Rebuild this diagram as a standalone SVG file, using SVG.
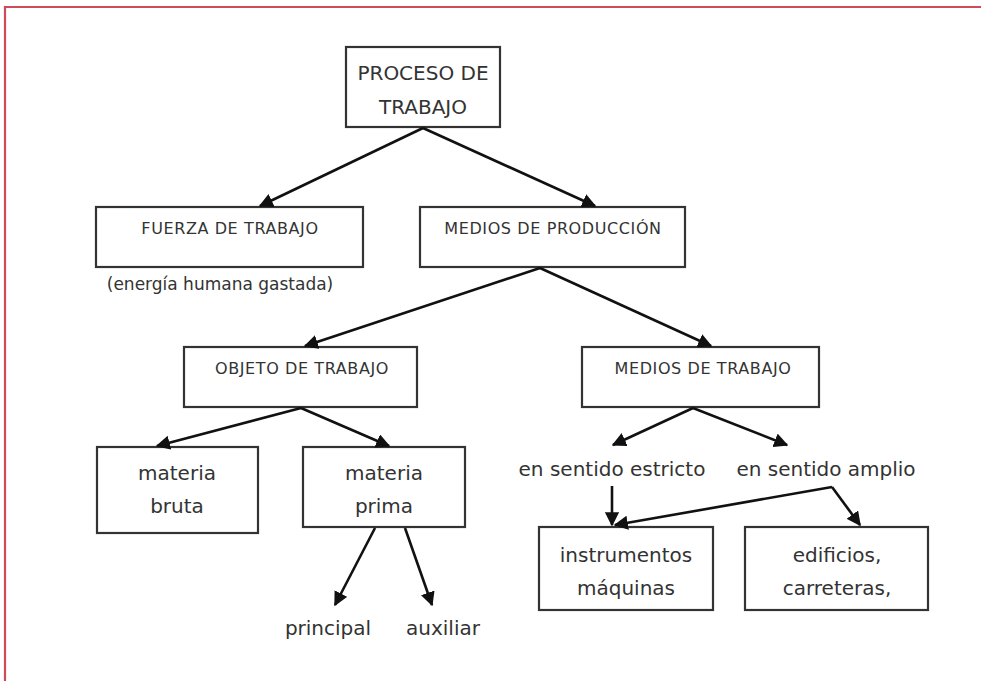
<svg xmlns="http://www.w3.org/2000/svg" width="981" height="681" viewBox="0 0 981 681">
<defs>
<style>
.box{fill:#fff;stroke:#333;stroke-width:2.2}
.t{font-family:"DejaVu Sans","Liberation Sans",sans-serif;fill:#333;text-anchor:middle}
.cap{font-size:16px;letter-spacing:0.6px}
.big{font-size:20px}
.low{font-size:20px}
.sm{font-size:17px}
.c line{stroke:#111;stroke-width:2.6;fill:none}
</style>
<marker id="ah" viewBox="0 0 10 10" refX="9" refY="5" markerWidth="5.5" markerHeight="5.5" markerUnits="strokeWidth" orient="auto">
<path d="M0,0 L10,5 L0,10 Z" fill="#111"/>
</marker>
</defs>
<rect width="981" height="681" fill="#fff"/>
<path d="M5,681 V7 H981" fill="none" stroke="#d04a58" stroke-width="2.2"/>

<g id="proceso"><rect class="box" x="346" y="47" width="154" height="80"/>
<text class="t big" x="423" y="80">PROCESO DE</text><text class="t big" x="423" y="114">TRABAJO</text></g>

<g id="fuerza"><rect class="box" x="96" y="207" width="267" height="60"/>
<text class="t cap" x="230" y="234">FUERZA DE TRABAJO</text></g>
<g id="energia"><text class="t sm" x="220" y="290">(energía humana gastada)</text></g>

<g id="medios-produccion"><rect class="box" x="420" y="207" width="265" height="60"/>
<text class="t cap" x="553" y="234">MEDIOS DE PRODUCCIÓN</text></g>

<g id="objeto"><rect class="box" x="184" y="347" width="233" height="60"/>
<text class="t cap" x="302" y="374">OBJETO DE TRABAJO</text></g>

<g id="medios-trabajo"><rect class="box" x="582" y="347" width="237" height="60"/>
<text class="t cap" x="703" y="374">MEDIOS  DE TRABAJO</text></g>

<g id="bruta"><rect class="box" x="97" y="447" width="161" height="86"/>
<text class="t low" x="177" y="480">materia</text><text class="t low" x="177" y="513">bruta</text></g>

<g id="prima"><rect class="box" x="303" y="447" width="162" height="80"/>
<text class="t low" x="384" y="480">materia</text><text class="t low" x="384" y="513">prima</text></g>

<g id="estricto"><text class="t low" x="612" y="476">en sentido estricto</text></g>
<g id="amplio"><text class="t low" x="826" y="476">en sentido amplio</text></g>

<g id="instrumentos"><rect class="box" x="539" y="527" width="174" height="83"/>
<text class="t low" x="626" y="562">instrumentos</text><text class="t low" x="626" y="595">máquinas</text></g>

<g id="edificios"><rect class="box" x="745" y="527" width="183" height="83"/>
<text class="t low" x="837" y="562">edificios,</text><text class="t low" x="837" y="595">carreteras,</text></g>

<g id="principal"><text class="t low" x="328" y="635">principal</text></g>
<g id="auxiliar"><text class="t low" x="443" y="635">auxiliar</text></g>

<g class="c" id="connectors">
<line x1="423" y1="128" x2="260" y2="206" marker-end="url(#ah)"/>
<line x1="423" y1="128" x2="595" y2="206" marker-end="url(#ah)"/>
<line x1="540" y1="268" x2="305" y2="346" marker-end="url(#ah)"/>
<line x1="540" y1="268" x2="711" y2="346" marker-end="url(#ah)"/>
<line x1="301" y1="408" x2="157" y2="446" marker-end="url(#ah)"/>
<line x1="301" y1="408" x2="389" y2="446" marker-end="url(#ah)"/>
<line x1="693" y1="408" x2="613" y2="445" marker-end="url(#ah)"/>
<line x1="693" y1="408" x2="787" y2="445" marker-end="url(#ah)"/>
<line x1="612" y1="486" x2="612" y2="525" marker-end="url(#ah)"/>
<line x1="832" y1="487" x2="615" y2="525" marker-end="url(#ah)"/>
<line x1="832" y1="487" x2="860" y2="525" marker-end="url(#ah)"/>
<line x1="375" y1="528" x2="335" y2="605" marker-end="url(#ah)"/>
<line x1="405" y1="528" x2="432" y2="605" marker-end="url(#ah)"/>
</g>
</svg>
